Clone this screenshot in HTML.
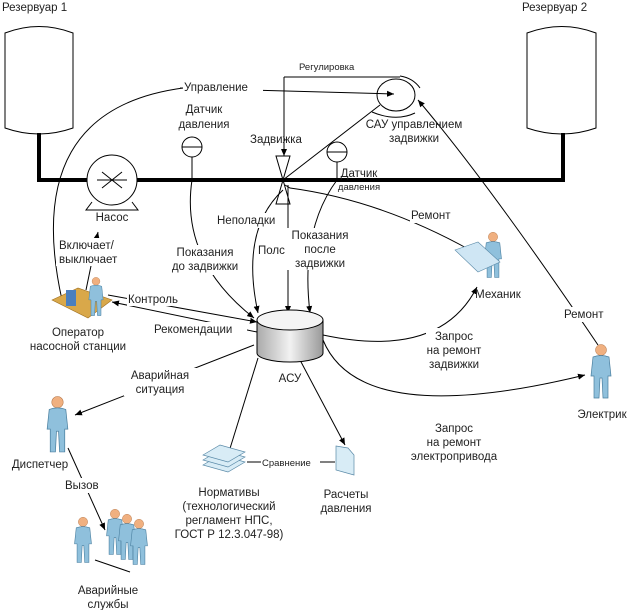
<!DOCTYPE html>
<html><head><meta charset="utf-8"><style>
html,body{margin:0;padding:0;background:#fff}
svg{display:block}
text{font-family:"Liberation Sans","DejaVu Sans",sans-serif;font-size:11.5px;fill:#222}
.s{font-size:9.5px}
</style></head><body>
<svg width="629" height="610" viewBox="0 0 629 610" xmlns="http://www.w3.org/2000/svg">
<defs>
<marker id="a" markerWidth="8" markerHeight="8" refX="7" refY="4" orient="auto" markerUnits="userSpaceOnUse"><path d="M0,1 L7,4 L0,7 Z" fill="#000"/></marker>
<linearGradient id="cyl" x1="0" x2="1"><stop offset="0" stop-color="#aaa"/><stop offset="0.5" stop-color="#f2f2f2"/><stop offset="1" stop-color="#999"/></linearGradient>
<symbol id="p" viewBox="0 0 26 56" overflow="visible">
<circle cx="13" cy="6" r="5.5" fill="#f0b080" stroke="#b07040" stroke-width="0.5"/>
<path d="M5,13 Q13,10 21,13 L23,32 L20,32 L20,54 L15,54 L14,34 L12,34 L11,54 L6,54 L6,32 L3,32 Z" fill="#8fc0dc" stroke="#4a7f9f" stroke-width="0.7"/>
</symbol>
</defs>
<g fill="none" stroke="#000" stroke-width="1">
<path d="M5,33 Q39,20 73,33 L73,128 Q39,140 5,128 Z"/>
<path d="M527,33 Q562,20 596,33 L596,128 Q562,140 527,128 Z"/>
<path d="M39,133 L39,180 L563,180 L563,133" stroke-width="4"/>
<circle cx="112" cy="180" r="25" fill="#fff"/>
<path d="M97,180 L127,180 M102,172 L122,188 M102,188 L122,172"/>
<path d="M92,202 L86,210 L138,210 L132,202"/>
<circle cx="192" cy="147" r="10" fill="#fff"/><path d="M182,147 L202,147 M192,157 L192,180"/>
<circle cx="337" cy="152" r="10" fill="#fff"/><path d="M327,152 L347,152 M337,162 L337,180"/>
<path d="M276,156 L290,156 L283,180 L290,204 L276,204 L283,180 Z" fill="#fff"/>
<ellipse cx="396" cy="95" rx="19" ry="16" fill="#fff"/>
<path d="M400,76 Q413,78 420,88"/><path d="M372,112 Q396,122 415,113"/>
<path d="M180,88 L394,94" marker-end="url(#a)"/>
<path d="M183,88 Q20,110 62,300"/>
<path d="M284,77 L400,77"/><path d="M284,77 L284,156" marker-end="url(#a)"/>
<path d="M283,180 L380,105"/>
<path d="M598,345 Q490,185 418,100" marker-end="url(#a)"/>
<path d="M470,250 Q380,200 290,188 L285,185"/>
<path d="M283,190 Q240,230 258,313" marker-end="url(#a)"/>
<path d="M288,185 L288,313" marker-end="url(#a)"/>
<path d="M337,180 Q300,230 310,313" marker-end="url(#a)"/>
<path d="M192,180 Q180,260 254,318" marker-end="url(#a)"/>
<path d="M86,290 L98,232" marker-end="url(#a)"/>
<path d="M108,295 L257,322" marker-end="url(#a)"/>
<path d="M257,332 L112,302" marker-end="url(#a)"/>
<path d="M254,345 L75,415" marker-end="url(#a)"/>
<path d="M323,335 Q440,360 477,287" marker-end="url(#a)"/>
<path d="M323,340 Q360,430 585,375" marker-end="url(#a)"/>
<path d="M258,358 L228,455"/>
<path d="M300,360 L345,445" marker-end="url(#a)"/>
<path d="M247,462 L335,462"/>
<path d="M68,448 L105,530" marker-end="url(#a)"/>
<path d="M95,560 L130,572"/>
</g>
<path d="M257,320 L257,353 A33,9 0 0 0 323,353 L323,320" fill="url(#cyl)" stroke="#000"/>
<ellipse cx="290" cy="320" rx="33" ry="10" fill="#f4f4f4" stroke="#000"/>
<g stroke="#5a8aa8" stroke-width="0.7" fill="#d8ecf6">
<path d="M203,465 L220,455 L245,462 L228,472 Z"/><path d="M203,460 L220,450 L245,457 L228,467 Z"/><path d="M203,455 L220,445 L245,452 L228,462 Z"/>
<path d="M336,446 L348,448 L354,455 L354,475 L336,470 Z"/>
</g>
<path d="M52,300 L78,288 L112,300 L88,318 Z" fill="#d9a84a" stroke="#a07020" stroke-width="0.6"/>
<rect x="66" y="290" width="10" height="16" fill="#4a7fbf"/>
<use href="#p" x="86" y="277" width="20" height="40"/>
<use href="#p" x="482" y="228" width="22" height="55"/>
<path d="M455,250 L478,242 L500,262 L478,272 Z" fill="#cfe6f4" stroke="#5a8aa8" stroke-width="0.6"/>
<use href="#p" x="588" y="343" width="26" height="58"/>
<use href="#p" x="44" y="396" width="27" height="58"/>
<use href="#p" x="72" y="513" width="22" height="55"/>
<use href="#p" x="104" y="505" width="22" height="55"/>
<use href="#p" x="116" y="510" width="22" height="55"/>
<use href="#p" x="128" y="515" width="22" height="55"/>
<g fill="#fff">
<rect x="183" y="80" width="80" height="15"/><rect x="298" y="60" width="68" height="13"/>
<rect x="216" y="213" width="71" height="15"/><rect x="257" y="242" width="30" height="16"/>
<rect x="287" y="228" width="66" height="42"/><rect x="165" y="245" width="80" height="30"/>
<rect x="56" y="238" width="72" height="28"/><rect x="127" y="292" width="60" height="14"/>
<rect x="153" y="322" width="94" height="14"/><rect x="124" y="368" width="75" height="28"/>
<rect x="410" y="208" width="52" height="15"/><rect x="563" y="307" width="50" height="15"/>
<rect x="426" y="328" width="57" height="43"/><rect x="403" y="420" width="103" height="43"/>
<rect x="261" y="456" width="59" height="13"/><rect x="62" y="478" width="40" height="15"/>
</g>
<text x="2" y="11">Резервуар 1</text>
<text x="522" y="11">Резервуар 2</text>
<text x="184" y="91">Управление</text>
<text x="299" y="70" class="s">Регулировка</text>
<text x="204" y="113" text-anchor="middle">Датчик</text><text x="204" y="128" text-anchor="middle">давления</text>
<text x="250" y="143">Задвижка</text>
<text x="414" y="128" text-anchor="middle">САУ управлением</text><text x="414" y="142" text-anchor="middle">задвижки</text>
<text x="359" y="177" text-anchor="middle">Датчик</text><text x="359" y="190" text-anchor="middle" class="s">давления</text>
<text x="112" y="221" text-anchor="middle">Насос</text>
<text x="217" y="224">Неполадки</text>
<text x="258" y="254">Полс</text>
<text x="320" y="239" text-anchor="middle">Показания</text><text x="320" y="253" text-anchor="middle">после</text><text x="320" y="267" text-anchor="middle">задвижки</text>
<text x="205" y="256" text-anchor="middle">Показания</text><text x="205" y="270" text-anchor="middle">до задвижки</text>
<text x="59" y="249">Включает/</text><text x="59" y="263">выключает</text>
<text x="128" y="303">Контроль</text>
<text x="78" y="336" text-anchor="middle">Оператор</text><text x="78" y="350" text-anchor="middle">насосной станции</text>
<text x="154" y="333">Рекомендации</text>
<text x="290" y="382" text-anchor="middle">АСУ</text>
<text x="160" y="379" text-anchor="middle">Аварийная</text><text x="160" y="393" text-anchor="middle">ситуация</text>
<text x="411" y="219">Ремонт</text>
<text x="498" y="298" text-anchor="middle">Механик</text>
<text x="564" y="318">Ремонт</text>
<text x="454" y="340" text-anchor="middle">Запрос</text><text x="454" y="354" text-anchor="middle">на ремонт</text><text x="454" y="368" text-anchor="middle">задвижки</text>
<text x="602" y="418" text-anchor="middle">Электрик</text>
<text x="454" y="432" text-anchor="middle">Запрос</text><text x="454" y="446" text-anchor="middle">на ремонт</text><text x="454" y="460" text-anchor="middle">электропривода</text>
<text x="262" y="466" class="s">Сравнение</text>
<text x="40" y="468" text-anchor="middle">Диспетчер</text>
<text x="65" y="489">Вызов</text>
<text x="229" y="496" text-anchor="middle">Нормативы</text><text x="229" y="510" text-anchor="middle">(технологический</text><text x="229" y="524" text-anchor="middle">регламент НПС,</text><text x="229" y="538" text-anchor="middle">ГОСТ Р 12.3.047-98)</text>
<text x="346" y="498" text-anchor="middle">Расчеты</text><text x="346" y="512" text-anchor="middle">давления</text>
<text x="108" y="594" text-anchor="middle">Аварийные</text><text x="108" y="608" text-anchor="middle">службы</text>
</svg>
</body></html>
